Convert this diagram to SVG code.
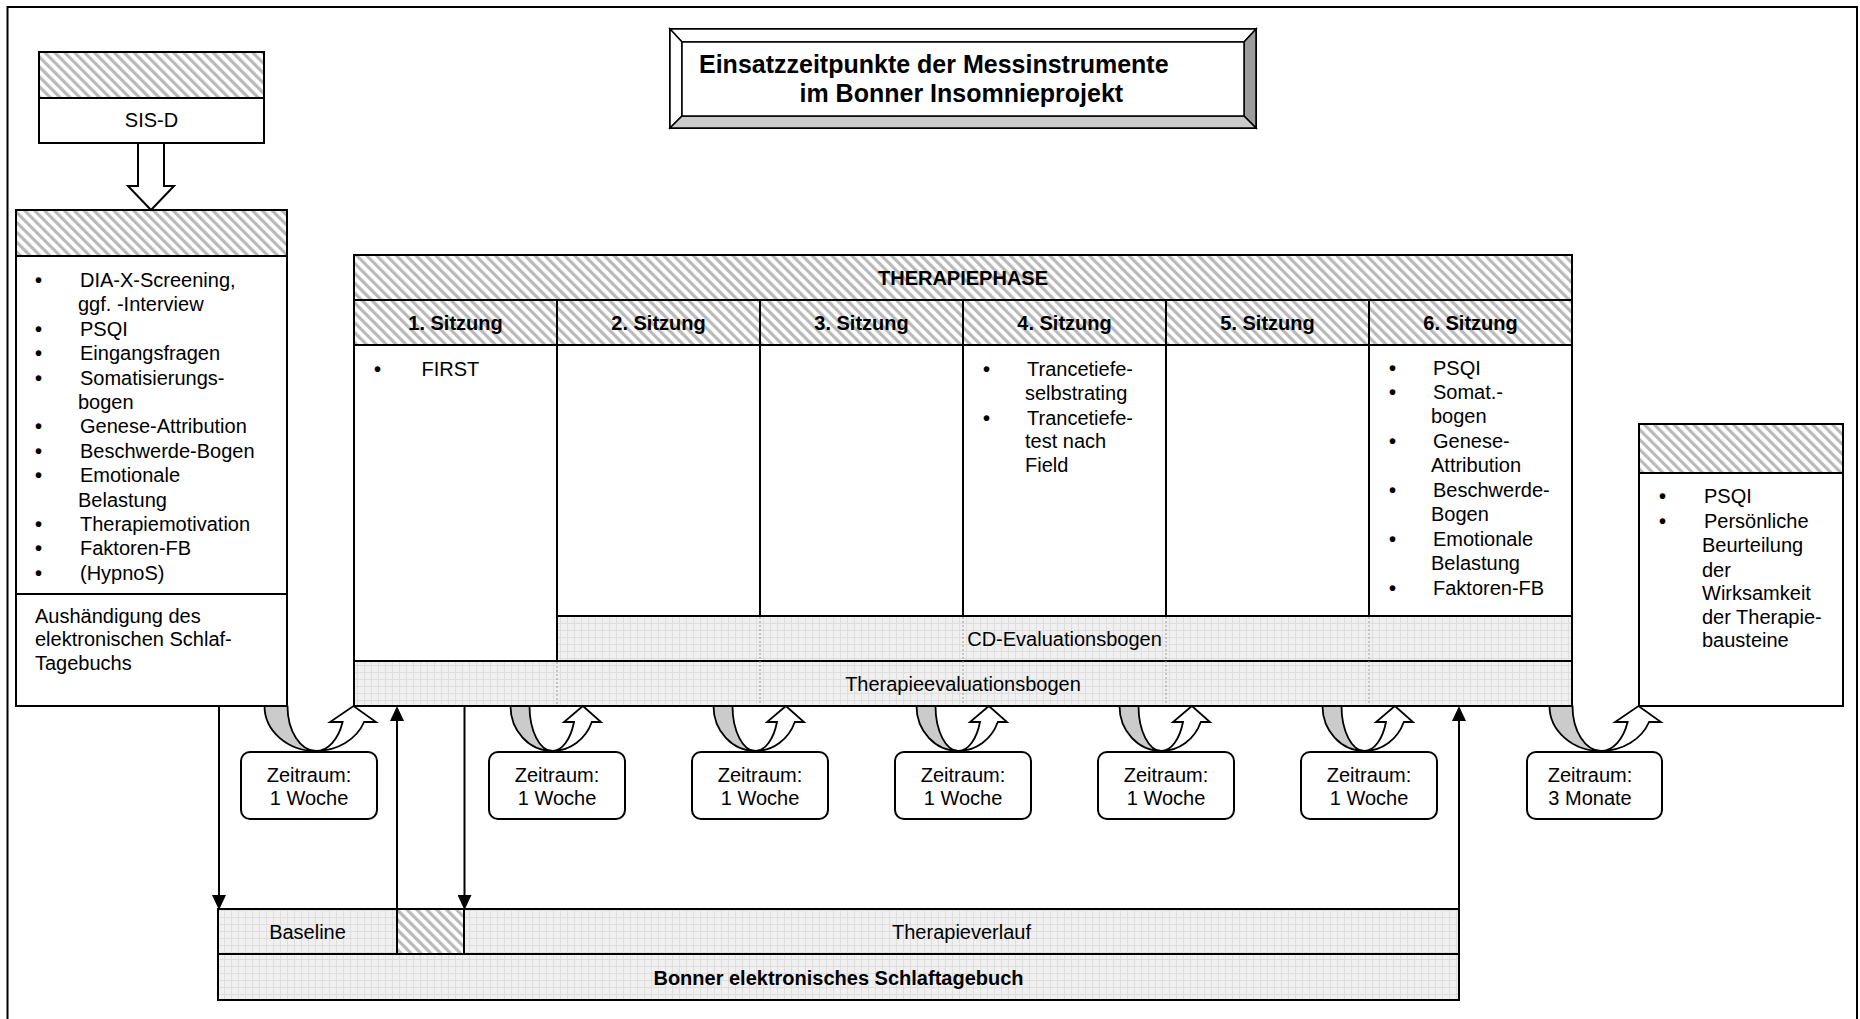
<svg xmlns="http://www.w3.org/2000/svg" width="1860" height="1019" viewBox="0 0 1860 1019">
<style>
.t{font-family:"Liberation Sans",Arial,sans-serif;font-size:20px;fill:#000}
.bu{font-weight:bold}
.b{font-weight:bold}
.c{text-anchor:middle}
.ttl{font-family:"Liberation Sans",Arial,sans-serif;font-size:25px;font-weight:bold;fill:#000}
.ln{fill:none;stroke:#000;stroke-width:2}
.box{fill:#fff;stroke:#000;stroke-width:2}
.hat{fill:url(#hatch);stroke:#000;stroke-width:2}
.grd{fill:url(#grid);stroke:#000;stroke-width:2}
.dsh{fill:none;stroke:#9a9a9a;stroke-width:1;stroke-dasharray:2 2}
.zr{fill:#fff;stroke:#000;stroke-width:2}
.back{fill:#cbcbcb;stroke:#000;stroke-width:1.8;stroke-linejoin:round}
.front{fill:#fff;stroke:#000;stroke-width:1.8;stroke-linejoin:miter}
.arr{fill:none;stroke:#000;stroke-width:2;marker-end:url(#ah)}
</style>
<defs>
<pattern id="hatch" patternUnits="userSpaceOnUse" width="7" height="7" patternTransform="rotate(-45)">
<rect width="7" height="7" fill="#fff"/>
<rect width="3.2" height="7" fill="#b9b9b9"/>
</pattern>
<pattern id="grid" patternUnits="userSpaceOnUse" width="7" height="7">
<rect width="7" height="7" fill="#f0f0f0"/>
<path d="M0 0.5H7M0.5 0V7" stroke="#dedede" stroke-width="1"/>
</pattern>
<marker id="ah" viewBox="0 -7 15 14" refX="0" refY="0" markerWidth="15" markerHeight="14" markerUnits="userSpaceOnUse" orient="auto">
<path d="M0,-7 L15,0 L0,7 Z" fill="#000"/>
</marker>
<g id="cbig">
<path class="back" d="M-51.5,0 A51.5,45 0 0 0 0,45 A28.5,45 0 0 1 -28.5,0 Z"/>
<path class="front" d="M0,45 A51.5,45 0 0 0 48.1,16 L60,16 L37.5,0 L14,16 L26.6,16 A28.5,45 0 0 1 0,45 Z"/>
</g>
<g id="csmall">
<path class="back" d="M-42,0 A42,45 0 0 0 0,45 A23,45 0 0 1 -23,0 Z"/>
<path class="front" d="M0,45 A42,45 0 0 0 39.3,16 L48.5,16 L30.4,0 L11.5,16 L21.5,16 A23,45 0 0 1 0,45 Z"/>
</g>
</defs>

<rect width="1860" height="1019" fill="#fff"/>
<path class="ln" d="M7.5,1025 V7 H1857 V1025"/>

<g id="title">
<rect x="670" y="29" width="586" height="99" fill="#fff" stroke="#000" stroke-width="2"/>
<polygon points="670,29 1256,29 1244,42 682,42" fill="#fff" stroke="#000" stroke-width="1.5"/>
<polygon points="670,29 682,42 682,116 670,128" fill="#fff" stroke="#000" stroke-width="1.5"/>
<polygon points="1256,29 1256,128 1244,116 1244,42" fill="#9c9c9c" stroke="#000" stroke-width="1.5"/>
<polygon points="670,128 1256,128 1244,116 682,116" fill="#cbcbcb" stroke="#000" stroke-width="1.5"/>
<rect x="682" y="42" width="562" height="74" fill="#fff" stroke="#000" stroke-width="1.5"/>
<text class="ttl" x="699" y="73">Einsatzzeitpunkte der Messinstrumente</text>
<text class="ttl" x="799.5" y="102">im Bonner Insomnieprojekt</text>
</g>

<g id="sisd">
<rect class="hat" x="39" y="52" width="225" height="46"/>
<rect class="box" x="39" y="98" width="225" height="45"/>
<text class="t c" x="151.5" y="127">SIS-D</text>
</g>

<g id="eingang">
<rect class="box" x="16" y="210" width="271" height="496"/>
<rect class="hat" x="16" y="210" width="271" height="46"/>
<line class="ln" x1="16" y1="594" x2="287" y2="594"/>
<text class="t">
<tspan class="bu" x="35" y="287">•</tspan><tspan x="80" y="287">DIA-X-Screening,</tspan>
<tspan x="78" y="311">ggf. -Interview</tspan>
<tspan class="bu" x="35" y="336">•</tspan><tspan x="80" y="336">PSQI</tspan>
<tspan class="bu" x="35" y="360">•</tspan><tspan x="80" y="360">Eingangsfragen</tspan>
<tspan class="bu" x="35" y="385">•</tspan><tspan x="80" y="385">Somatisierungs-</tspan>
<tspan x="78" y="409">bogen</tspan>
<tspan class="bu" x="35" y="433">•</tspan><tspan x="80" y="433">Genese-Attribution</tspan>
<tspan class="bu" x="35" y="458">•</tspan><tspan x="80" y="458">Beschwerde-Bogen</tspan>
<tspan class="bu" x="35" y="482">•</tspan><tspan x="80" y="482">Emotionale</tspan>
<tspan x="78" y="507">Belastung</tspan>
<tspan class="bu" x="35" y="531">•</tspan><tspan x="80" y="531">Therapiemotivation</tspan>
<tspan class="bu" x="35" y="555">•</tspan><tspan x="80" y="555">Faktoren-FB</tspan>
<tspan class="bu" x="35" y="580">•</tspan><tspan x="80" y="580">(HypnoS)</tspan>
</text>
<text class="t">
<tspan x="35" y="623">Aushändigung des</tspan>
<tspan x="35" y="646">elektronischen Schlaf-</tspan>
<tspan x="35" y="670">Tagebuchs</tspan>
</text>
</g>

<g id="therapiephase">
<rect class="box" x="354" y="255" width="1218" height="451"/>
<rect class="hat" x="354" y="255" width="1218" height="45"/>
<rect class="hat" x="354" y="300" width="1218" height="45"/>
<rect class="grd" x="557" y="616" width="1015" height="45"/>
<rect class="grd" x="354" y="661" width="1218" height="45"/>
<path class="ln" d="M557,300 V661 M760,300 V616 M963,300 V616 M1166,300 V616 M1369,300 V616"/>
<path class="dsh" d="M760,617 V705 M963,617 V705 M1166,617 V705 M1369,617 V705 M557,662 V705"/>
<text class="t b c" x="963" y="285">THERAPIEPHASE</text>
<text class="t b c" x="455.5" y="330">1. Sitzung</text>
<text class="t b c" x="658.5" y="330">2. Sitzung</text>
<text class="t b c" x="861.5" y="330">3. Sitzung</text>
<text class="t b c" x="1064.5" y="330">4. Sitzung</text>
<text class="t b c" x="1267.5" y="330">5. Sitzung</text>
<text class="t b c" x="1470.5" y="330">6. Sitzung</text>
<text class="t"><tspan class="bu" x="374" y="376">•</tspan><tspan x="421.5" y="376">FIRST</tspan></text>
<text class="t">
<tspan class="bu" x="983" y="376">•</tspan><tspan x="1027" y="376">Trancetiefe-</tspan>
<tspan x="1025" y="400">selbstrating</tspan>
<tspan class="bu" x="983" y="425">•</tspan><tspan x="1027" y="425">Trancetiefe-</tspan>
<tspan x="1025" y="448">test nach</tspan>
<tspan x="1025" y="472">Field</tspan>
</text>
<text class="t">
<tspan class="bu" x="1389" y="375">•</tspan><tspan x="1433" y="375">PSQI</tspan>
<tspan class="bu" x="1389" y="399">•</tspan><tspan x="1433" y="399">Somat.-</tspan>
<tspan x="1431" y="423">bogen</tspan>
<tspan class="bu" x="1389" y="448">•</tspan><tspan x="1433" y="448">Genese-</tspan>
<tspan x="1431" y="472">Attribution</tspan>
<tspan class="bu" x="1389" y="497">•</tspan><tspan x="1433" y="497">Beschwerde-</tspan>
<tspan x="1431" y="521">Bogen</tspan>
<tspan class="bu" x="1389" y="546">•</tspan><tspan x="1433" y="546">Emotionale</tspan>
<tspan x="1431" y="570">Belastung</tspan>
<tspan class="bu" x="1389" y="595">•</tspan><tspan x="1433" y="595">Faktoren-FB</tspan>
</text>
<text class="t c" x="1064.5" y="646">CD-Evaluationsbogen</text>
<text class="t c" x="963" y="691">Therapieevaluationsbogen</text>
</g>

<g id="nachbefragung">
<rect class="box" x="1639" y="424" width="204" height="282"/>
<rect class="hat" x="1639" y="424" width="204" height="49"/>
<text class="t">
<tspan class="bu" x="1659" y="503">•</tspan><tspan x="1704" y="503">PSQI</tspan>
<tspan class="bu" x="1659" y="528">•</tspan><tspan x="1704" y="528">Persönliche</tspan>
<tspan x="1702" y="552">Beurteilung</tspan>
<tspan x="1702" y="577">der</tspan>
<tspan x="1702" y="600">Wirksamkeit</tspan>
<tspan x="1702" y="624">der Therapie-</tspan>
<tspan x="1702" y="647">bausteine</tspan>
</text>
</g>

<g id="tagebuch">
<rect class="grd" x="218" y="909" width="1241" height="45"/>
<rect class="hat" x="397" y="909" width="67" height="45"/>
<rect class="grd" x="218" y="954" width="1241" height="46"/>
<text class="t c" x="307.5" y="939">Baseline</text>
<text class="t c" x="961.5" y="939">Therapieverlauf</text>
<text class="t b c" x="838.5" y="985">Bonner elektronisches Schlaftagebuch</text>
</g>

<g id="zeitraum1"><rect class="zr" x="241" y="752" width="136" height="67" rx="9"/>
<text class="t c"><tspan x="309" y="782">Zeitraum:</tspan><tspan x="309" y="805">1 Woche</tspan></text></g>
<g id="zeitraum2"><rect class="zr" x="489" y="752" width="136" height="67" rx="9"/>
<text class="t c"><tspan x="557" y="782">Zeitraum:</tspan><tspan x="557" y="805">1 Woche</tspan></text></g>
<g id="zeitraum3"><rect class="zr" x="692" y="752" width="136" height="67" rx="9"/>
<text class="t c"><tspan x="760" y="782">Zeitraum:</tspan><tspan x="760" y="805">1 Woche</tspan></text></g>
<g id="zeitraum4"><rect class="zr" x="895" y="752" width="136" height="67" rx="9"/>
<text class="t c"><tspan x="963" y="782">Zeitraum:</tspan><tspan x="963" y="805">1 Woche</tspan></text></g>
<g id="zeitraum5"><rect class="zr" x="1098" y="752" width="136" height="67" rx="9"/>
<text class="t c"><tspan x="1166" y="782">Zeitraum:</tspan><tspan x="1166" y="805">1 Woche</tspan></text></g>
<g id="zeitraum6"><rect class="zr" x="1301" y="752" width="136" height="67" rx="9"/>
<text class="t c"><tspan x="1369" y="782">Zeitraum:</tspan><tspan x="1369" y="805">1 Woche</tspan></text></g>
<g id="zeitraum7"><rect class="zr" x="1527" y="752" width="135" height="67" rx="9"/>
<text class="t c"><tspan x="1590" y="782">Zeitraum:</tspan><tspan x="1590" y="805">3 Monate</tspan></text></g>

<g id="connectors">
<polygon points="138,143 164,143 164,186 174,186 151,210 128,186 138,186" fill="#fff" stroke="#000" stroke-width="2" stroke-linejoin="miter"/>
<line class="arr" x1="219" y1="706" x2="219" y2="895"/>
<line class="arr" x1="397" y1="909" x2="397" y2="721"/>
<line class="arr" x1="464.5" y1="706" x2="464.5" y2="895"/>
<line class="arr" x1="1459" y1="909" x2="1459" y2="721"/>
<use href="#cbig" x="316" y="706"/>
<use href="#csmall" x="552.5" y="706"/>
<use href="#csmall" x="755.5" y="706"/>
<use href="#csmall" x="958.5" y="706"/>
<use href="#csmall" x="1161.5" y="706"/>
<use href="#csmall" x="1364.5" y="706"/>
<use href="#cbig" x="1601" y="706"/>
</g>
</svg>
